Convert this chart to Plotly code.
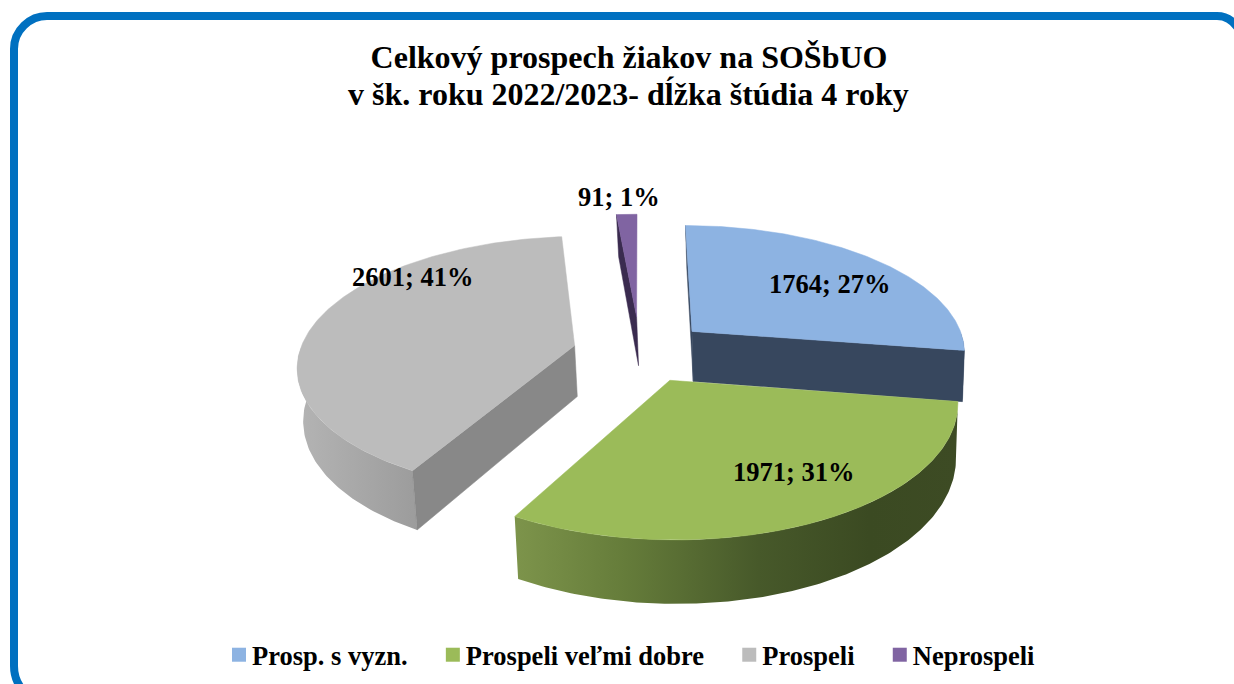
import numpy as np
import plotly.graph_objects as go

# --- data ---
CATEGORIES = ["Prosp. s vyzn.", "Prospeli veľmi dobre", "Prospeli", "Neprospeli"]
VALUES = [1764, 1971, 2601, 91]
PERCENTS = [27, 31, 41, 1]
TITLE_LINES = ["Celkový prospech žiakov na SOŠbUO", "v šk. roku 2022/2023- dĺžka štúdia 4 roky"]

# --- styles ---
TOP_COLORS = ["#8db3e2", "#9bbb59", "#bcbcbc", "#8064a2"]
CUT_COLORS = ["#37475e", "#4f6130", "#888888", "#3a2b4f"]
WALL_SCALES = [
    [[0, "#37475e"], [1, "#37475e"]],
    [[0, "#7d944b"], [0.25, "#657c3a"], [0.55, "#47592a"], [0.8, "#3b4a22"], [1, "#3d4b24"]],
    [[0, "#b4b4b4"], [1, "#9c9c9c"]],
    [[0, "#3a2b4f"], [1, "#3a2b4f"]],
]
EXPLODE = [0.255, 0.24, 0.245, 0.29]
LABEL_X = [829, 793, 412, 619]
LABEL_Y = [284, 472, 277, 197]
FONT = "Liberation Serif"

# --- 3-D pie projection derived from the values ---
CX, CY, BX, AY, K = 640.0, 352.0, 275.0, 127.0, 0.1467


def proj(u, v):
    d = 1 - K * v
    return CX + BX * u / d, CY + AY * v / d


def drop(x, y):
    return x + (800.0 - x) * 0.012, y + 27.8 + 0.067 * y


fractions = np.array(VALUES) / sum(VALUES)
edges = np.concatenate([[0.0], np.cumsum(fractions)]) * 2 * np.pi
order = [3, 0, 2, 1]
fig = go.Figure()


def poly(xs, ys, color=None, scale=None):
    xs, ys = list(xs), list(ys)
    kw = dict(x=xs + xs[:1], y=ys + ys[:1], mode="lines", fill="toself",
              hoverinfo="skip", showlegend=False, line=dict(width=0))
    if scale is not None:
        kw["fillgradient"] = dict(type="horizontal", colorscale=scale)
        kw["fillcolor"] = scale[0][1]
    else:
        kw["fillcolor"] = color
        kw["line"] = dict(width=0.5, color=color)
    fig.add_trace(go.Scatter(**kw))


for i in order:
    a0, a1 = edges[i], edges[i + 1]
    mid = (a0 + a1) / 2
    ou, ov = EXPLODE[i] * np.sin(mid), -EXPLODE[i] * np.cos(mid)
    t = np.linspace(a0, a1, 160)
    rx, ry = proj(ou + np.sin(t), ov - np.cos(t))
    ax, ay = proj(ou, ov)
    bax, bay = drop(ax, ay)
    bx0, by0 = drop(rx[0], ry[0])
    bx1, by1 = drop(rx[-1], ry[-1])
    # outer wall, front half only
    mask = (t > np.pi / 2) & (t < 3 * np.pi / 2)
    if mask.sum() > 1:
        wx, wy = rx[mask], ry[mask]
        dx, dy = drop(wx, wy)
        poly(np.r_[wx, dx[::-1]], np.r_[wy, dy[::-1]], scale=WALL_SCALES[i])
    # cut faces turned towards the viewer
    if i in (0, 2, 3):
        poly([ax, rx[0], bx0, bax], [ay, ry[0], by0, bay], CUT_COLORS[i])
    if i == 0:
        poly([ax, rx[-1], bx1, bax], [ay, ry[-1], by1, bay], CUT_COLORS[i])
    # top surface
    poly(np.r_[ax, rx], np.r_[ay, ry], TOP_COLORS[i])

# legend entries (trailing no-break spaces reproduce the wider item gap)
for name, color in zip(CATEGORIES, TOP_COLORS):
    fig.add_trace(go.Scatter(x=[None], y=[None], mode="markers", name=name + "\u00a0\u00a0",
                             marker=dict(symbol="square", size=14, color=color, angle=90, standoff=7,
                                         line=dict(width=0))))

annotations = [
    dict(x=x, y=y, xref="x", yref="y", text=f"<b>{v}; {p}%</b>", showarrow=False,
         font=dict(family=FONT, size=26.5, color="#000000"), xanchor="center", yanchor="middle")
    for x, y, v, p in zip(LABEL_X, LABEL_Y, VALUES, PERCENTS)
]
annotations.append(dict(x=628.5, y=94, xref="x", yref="y", text=f"<b>{TITLE_LINES[1]}</b>", showarrow=False,
                        font=dict(family=FONT, size=32, color="#000000"), xanchor="center", yanchor="middle"))

frame = ("M 50,703 C 30,703 14,686 14,666 L 14,49 C 14,30 30,16 47,16 "
         "L 1217,16 C 1226,16 1234,20 1240,32")

fig.update_layout(
    width=1234, height=684, margin=dict(l=0, r=0, t=0, b=0),
    paper_bgcolor="#ffffff", plot_bgcolor="#ffffff",
    title=dict(text=f"<b>{TITLE_LINES[0]}</b>", x=629 / 1234, xanchor="center", y=1 - 57 / 684, yanchor="middle",
               font=dict(family=FONT, size=32, color="#000000")),
    xaxis=dict(range=[0, 1234], visible=False, fixedrange=True),
    yaxis=dict(range=[684, 0], visible=False, fixedrange=True),
    shapes=[dict(type="path", path=frame, xref="x", yref="y",
                 line=dict(color="#0070c0", width=8), fillcolor="rgba(0,0,0,0)")],
    annotations=annotations,
    legend=dict(orientation="h", x=212 / 1234, xanchor="left", y=1 - 655 / 684, yanchor="middle",
                font=dict(family=FONT, size=26.5, color="#000000", weight="bold"),
                bgcolor="rgba(0,0,0,0)"),
)

fig.write_html("out.html", config={"displayModeBar": False},
               post_script="document.body.style.margin='0';document.body.style.overflow='hidden';")
